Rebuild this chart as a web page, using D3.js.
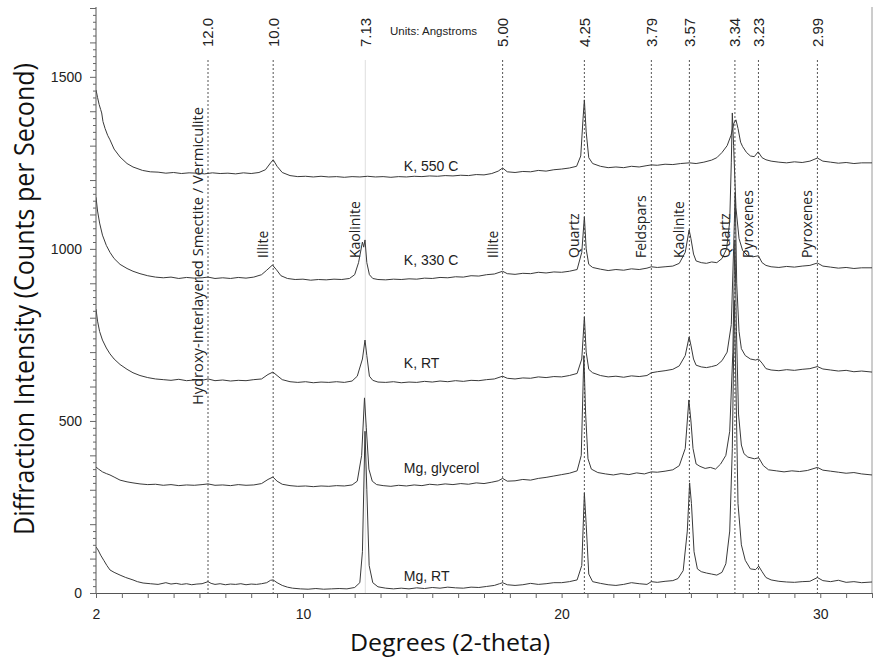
<!DOCTYPE html>
<html>
<head>
<meta charset="utf-8">
<script src="https://cdn.jsdelivr.net/npm/d3@7"></script>
<style>
  body { margin: 0; background: #fff; }
  svg { display: block; }
</style>
</head>
<body>
<svg id="chart" width="874" height="666"></svg>
<script>
// ---- data (2-theta degrees, counts per second) ----
const mgRT = [[2.0,134],[2.08,125],[2.18,110],[2.3,95],[2.42,80],[2.54,67],[2.7,60],[2.93,52],[3.15,45],[3.43,38],[3.6,33],[3.82,29],[4.1,27],[4.4,25],[4.7,30],[4.9,26],[5.1,28],[5.3,25],[5.5,27],[5.7,24],[5.9,26],[6.1,27],[6.33,33],[6.45,28],[6.6,25],[6.8,27],[7.0,24],[7.2,26],[7.4,25],[7.6,27],[7.8,24],[8.0,26],[8.2,25],[8.4,27],[8.6,30],[8.75,37],[8.85,38],[9.0,30],[9.2,22],[9.4,17],[9.6,14],[9.9,12],[10.2,11],[10.5,13],[10.8,11],[11.1,12],[11.4,13],[11.7,12],[12.0,16],[12.2,30],[12.3,120],[12.4,470],[12.47,300],[12.56,80],[12.7,30],[12.9,18],[13.2,14],[13.5,12],[13.8,14],[14.1,12],[14.4,15],[14.7,13],[15.0,16],[15.3,14],[15.6,17],[15.9,15],[16.2,14],[16.5,17],[16.8,16],[17.1,19],[17.4,22],[17.6,27],[17.72,30],[17.9,24],[18.2,22],[18.5,24],[18.8,28],[19.1,25],[19.4,27],[19.7,30],[20.0,30],[20.3,33],[20.6,38],[20.78,80],[20.88,290],[20.95,200],[21.05,55],[21.2,33],[21.5,28],[21.8,24],[22.1,22],[22.4,25],[22.7,30],[23.0,27],[23.3,25],[23.47,33],[23.7,31],[24.0,34],[24.3,36],[24.5,42],[24.7,65],[24.86,180],[24.95,320],[25.02,260],[25.12,120],[25.25,70],[25.4,62],[25.6,58],[25.8,55],[26.0,52],[26.2,60],[26.35,85],[26.5,180],[26.6,420],[26.68,850],[26.74,600],[26.82,260],[26.95,140],[27.1,95],[27.3,70],[27.5,68],[27.62,78],[27.75,62],[27.9,45],[28.1,38],[28.4,34],[28.7,32],[29.0,31],[29.3,33],[29.6,34],[29.89,45],[30.1,36],[30.4,33],[30.7,37],[31.0,31],[31.3,33],[31.6,30],[32.0,32]];

const mgGlycerol = [[2.0,366],[2.1,360],[2.25,352],[2.4,347],[2.54,343],[2.7,337],[2.93,328],[3.2,323],[3.43,320],[3.7,317],[4.0,315],[4.3,316],[4.6,313],[4.9,315],[5.2,312],[5.5,314],[5.8,313],[6.1,315],[6.33,317],[6.6,313],[6.9,314],[7.2,312],[7.5,315],[7.8,313],[8.1,314],[8.4,318],[8.65,330],[8.84,337],[9.0,325],[9.2,316],[9.5,312],[9.8,310],[10.1,311],[10.4,309],[10.7,311],[11.0,310],[11.3,312],[11.6,311],[11.9,314],[12.1,325],[12.27,400],[12.38,567],[12.45,480],[12.55,360],[12.68,325],[12.85,315],[13.1,312],[13.4,310],[13.7,313],[14.0,311],[14.3,314],[14.6,312],[14.9,316],[15.2,314],[15.5,317],[15.8,315],[16.1,318],[16.4,316],[16.7,320],[17.0,318],[17.3,322],[17.55,326],[17.72,333],[17.9,325],[18.2,326],[18.5,330],[18.8,328],[19.1,333],[19.4,336],[19.7,340],[20.0,344],[20.3,348],[20.6,355],[20.76,400],[20.86,690],[20.93,520],[21.02,390],[21.15,360],[21.4,350],[21.7,346],[22.0,343],[22.3,347],[22.6,344],[22.9,349],[23.2,346],[23.47,352],[23.7,351],[24.0,354],[24.3,358],[24.55,370],[24.78,420],[24.92,561],[25.0,500],[25.08,420],[25.2,375],[25.35,368],[25.55,362],[25.75,365],[25.95,360],[26.15,375],[26.35,400],[26.5,470],[26.62,700],[26.7,1026],[26.76,760],[26.84,520],[26.95,430],[27.05,405],[27.2,395],[27.45,390],[27.62,393],[27.8,370],[28.0,358],[28.3,355],[28.6,352],[28.9,355],[29.2,353],[29.5,356],[29.89,365],[30.1,357],[30.4,354],[30.7,351],[31.0,348],[31.3,350],[31.6,346],[32.0,343]];

const kRT = [[2.0,825],[2.06,790],[2.14,760],[2.25,735],[2.4,712],[2.54,695],[2.7,680],[2.93,664],[3.2,650],[3.43,640],[3.7,632],[4.0,626],[4.3,622],[4.6,620],[4.9,618],[5.2,621],[5.5,617],[5.8,619],[6.1,618],[6.33,622],[6.6,617],[6.9,619],[7.2,616],[7.5,618],[7.8,617],[8.1,620],[8.4,622],[8.65,635],[8.84,642],[9.0,632],[9.2,620],[9.5,614],[9.8,612],[10.1,614],[10.4,611],[10.7,613],[11.0,612],[11.3,614],[11.6,612],[11.9,616],[12.1,630],[12.3,680],[12.4,735],[12.47,690],[12.57,630],[12.7,618],[12.9,613],[13.2,612],[13.5,614],[13.8,611],[14.1,613],[14.4,612],[14.7,615],[15.0,613],[15.3,616],[15.6,614],[15.9,617],[16.2,615],[16.5,618],[16.8,617],[17.1,620],[17.4,622],[17.72,630],[17.9,624],[18.2,622],[18.5,625],[18.8,624],[19.1,628],[19.4,626],[19.7,629],[20.0,628],[20.3,632],[20.6,638],[20.78,680],[20.88,802],[20.95,700],[21.05,650],[21.2,640],[21.5,632],[21.8,628],[22.1,630],[22.4,627],[22.7,631],[23.0,629],[23.3,632],[23.47,640],[23.7,643],[24.0,646],[24.3,650],[24.55,660],[24.78,690],[24.93,744],[25.0,720],[25.1,680],[25.2,662],[25.4,657],[25.6,655],[25.8,658],[26.0,662],[26.2,675],[26.4,700],[26.56,780],[26.65,1000],[26.71,1163],[26.77,900],[26.86,760],[26.95,710],[27.1,690],[27.3,680],[27.5,677],[27.61,680],[27.75,668],[27.9,652],[28.1,648],[28.4,646],[28.7,649],[29.0,647],[29.3,650],[29.6,652],[29.89,658],[30.1,651],[30.4,648],[30.7,645],[31.0,647],[31.3,643],[31.6,645],[32.0,642]];

const k330 = [[2.0,1150],[2.06,1110],[2.14,1075],[2.25,1040],[2.4,1010],[2.54,990],[2.7,972],[2.93,955],[3.2,943],[3.43,935],[3.7,928],[4.0,922],[4.3,918],[4.6,916],[4.9,918],[5.2,914],[5.5,917],[5.8,915],[6.1,916],[6.33,918],[6.6,914],[6.9,916],[7.2,914],[7.5,917],[7.8,915],[8.1,918],[8.4,925],[8.6,938],[8.82,953],[8.97,940],[9.15,922],[9.4,914],[9.7,911],[10.0,912],[10.3,909],[10.6,911],[10.9,910],[11.2,912],[11.5,911],[11.8,914],[12.0,925],[12.15,960],[12.3,1020],[12.35,1005],[12.4,1026],[12.47,960],[12.57,925],[12.7,914],[12.9,911],[13.2,910],[13.5,912],[13.8,911],[14.1,913],[14.4,912],[14.7,915],[15.0,914],[15.3,917],[15.6,916],[15.9,919],[16.2,918],[16.5,922],[16.8,921],[17.1,925],[17.4,927],[17.72,935],[17.9,928],[18.2,926],[18.5,929],[18.8,928],[19.1,932],[19.4,930],[19.7,933],[20.0,932],[20.3,935],[20.6,940],[20.78,990],[20.88,1093],[20.95,1000],[21.05,955],[21.2,946],[21.5,941],[21.8,937],[22.1,940],[22.4,938],[22.7,942],[23.0,940],[23.3,944],[23.47,948],[23.7,946],[24.0,948],[24.3,950],[24.55,958],[24.78,990],[24.93,1055],[25.0,1030],[25.1,985],[25.2,965],[25.4,960],[25.6,958],[25.8,962],[26.0,960],[26.2,972],[26.38,1000],[26.5,1080],[26.56,1250],[26.6,1395],[26.65,1300],[26.74,1120],[26.86,1030],[27.0,995],[27.2,980],[27.4,977],[27.61,980],[27.75,960],[27.9,952],[28.1,948],[28.4,946],[28.7,949],[29.0,947],[29.3,950],[29.6,952],[29.89,959],[30.1,950],[30.4,947],[30.7,944],[31.0,946],[31.3,943],[31.6,945],[32.0,945]];

const k550 = [[2.0,1462],[2.06,1440],[2.12,1420],[2.18,1405],[2.22,1395],[2.27,1370],[2.35,1350],[2.45,1330],[2.54,1317],[2.7,1290],[2.93,1267],[3.2,1248],[3.43,1238],[3.8,1228],[4.1,1224],[4.4,1223],[4.7,1220],[5.0,1222],[5.3,1219],[5.6,1221],[5.9,1220],[6.2,1218],[6.5,1221],[6.8,1219],[7.1,1220],[7.4,1218],[7.7,1221],[8.0,1219],[8.3,1222],[8.55,1230],[8.75,1250],[8.85,1259],[9.0,1240],[9.2,1222],[9.5,1213],[9.8,1210],[10.1,1211],[10.4,1209],[10.7,1211],[11.0,1209],[11.3,1210],[11.6,1208],[11.9,1210],[12.2,1209],[12.5,1211],[12.8,1209],[13.1,1210],[13.4,1208],[13.7,1210],[14.0,1209],[14.3,1211],[14.6,1210],[14.9,1212],[15.2,1211],[15.5,1213],[15.8,1212],[16.1,1214],[16.4,1213],[16.7,1216],[17.0,1215],[17.3,1219],[17.55,1226],[17.72,1235],[17.9,1224],[18.2,1222],[18.5,1225],[18.8,1224],[19.1,1228],[19.4,1226],[19.7,1230],[20.0,1232],[20.3,1235],[20.58,1240],[20.74,1270],[20.83,1380],[20.88,1433],[20.95,1340],[21.05,1265],[21.2,1248],[21.5,1240],[21.8,1236],[22.1,1238],[22.4,1236],[22.7,1240],[23.0,1238],[23.3,1242],[23.47,1244],[23.7,1243],[24.0,1246],[24.3,1245],[24.6,1248],[24.94,1250],[25.2,1248],[25.5,1252],[25.8,1258],[26.0,1265],[26.2,1280],[26.4,1300],[26.55,1330],[26.66,1365],[26.74,1375],[26.82,1350],[26.92,1310],[27.0,1297],[27.15,1280],[27.3,1270],[27.45,1268],[27.6,1282],[27.75,1265],[27.9,1259],[28.1,1255],[28.4,1252],[28.7,1250],[29.0,1253],[29.3,1251],[29.6,1255],[29.89,1264],[30.1,1255],[30.4,1252],[30.7,1249],[31.0,1251],[31.3,1248],[31.6,1250],[32.0,1250]];

const seriesNames = ["Mg, RT", "Mg, glycerol", "K, RT", "K, 330 C", "K, 550 C"];
const seriesData = [mgRT, mgGlycerol, kRT, k330, k550];

// reference d-spacing lines (2-theta) with their labels
const dLinePos = [6.33, 8.85, 12.41, 17.72, 20.88, 23.47, 24.94, 26.70, 27.61, 29.89];
const dLineLabels = ["12.0", "10.0", "7.13", "5.00", "4.25", "3.79", "3.57", "3.34", "3.23", "2.99"];
const mineralNames = ["Hydroxy-Interlayered Smectite / Vermiculite", "Illite", "Kaolinite", "Illite",
  "Quartz", "Feldspars", "Kaolinite", "Quartz", "Pyroxenes", "Pyroxenes"];

const xTickLabels = [2, 10, 20, 30];
const yTickLabels = [0, 500, 1000, 1500];

// ---- drawing ----
const svg = d3.select("#chart");
const x = d3.scaleLinear().domain([2, 32]).range([96, 872]);
const y = d3.scaleLinear().domain([0, 1700]).range([593, 8]);
const ink = "#3a3a3a";
const numFont = "'Liberation Sans', Arial, sans-serif";
const textFont = "'Open Sans', 'Noto Sans', sans-serif";

svg.append("defs").append("clipPath").attr("id", "plot")
  .append("rect").attr("x", 96).attr("y", 0).attr("width", 776).attr("height", 593);

// right frame line
svg.append("line").attr("x1", 872).attr("x2", 872).attr("y1", 7).attr("y2", 593)
  .attr("stroke", "#9a9a9a").attr("stroke-width", 1);

// vertical reference lines
const refs = svg.append("g");
dLinePos.forEach(function (t, i) {
  const faint = dLineLabels[i] === "7.13";
  refs.append("line")
    .attr("x1", x(t)).attr("x2", x(t))
    .attr("y1", 60).attr("y2", 593)
    .attr("stroke", faint ? "#dedede" : "#555")
    .attr("stroke-width", 1)
    .attr("stroke-dasharray", faint ? null : "2,2");
  refs.append("text")
    .attr("transform", "translate(" + x(t) + ",47) rotate(-90)")
    .attr("dy", "0.36em")
    .attr("font-family", numFont).attr("font-size", 15)
    .attr("fill", "#222")
    .text(dLineLabels[i]);
  const lab = refs.append("text")
    .attr("transform", "translate(" + (x(t) - 10) + "," + (i === 0 ? 405 : 258) + ") rotate(-90)")
    .attr("dy", "0.36em")
    .attr("font-family", textFont).attr("font-size", 14)
    .attr("fill", "#222")
    .text(mineralNames[i]);
  if (i === 0) lab.attr("textLength", 298).attr("lengthAdjust", "spacingAndGlyphs");
});

svg.append("text").attr("x", 390).attr("y", 35)
  .attr("font-family", numFont).attr("font-size", 10).attr("fill", "#222")
  .attr("textLength", 87).attr("lengthAdjust", "spacingAndGlyphs")
  .text("Units: Angstroms");

// traces
const line = d3.line().x(d => x(d[0])).y(d => y(d[1]));
const traces = svg.append("g").attr("clip-path", "url(#plot)");
seriesData.forEach(function (s) {
  traces.append("path").datum(s)
    .attr("d", line)
    .attr("fill", "none")
    .attr("stroke", ink)
    .attr("stroke-width", 1)
    .attr("stroke-linejoin", "round");
});

// series labels sit just above each trace
const labelAt = 13.9;
const labelLift = [8, 13, 14, 14, 6];
const bis = d3.bisector(d => d[0]).left;
seriesData.forEach(function (s, i) {
  const j = bis(s, labelAt);
  svg.append("text")
    .attr("x", x(labelAt))
    .attr("y", y(s[j][1]) - labelLift[i])
    .attr("font-family", numFont).attr("font-size", 14)
    .attr("fill", "#222")
    .text(seriesNames[i]);
});

// y axis
const yAxis = svg.append("g").attr("transform", "translate(96,0)")
  .call(d3.axisLeft(y).tickValues(d3.range(0, 1701, 20)).tickSize(3).tickSizeOuter(0).tickFormat(""));
yAxis.selectAll(".tick line").attr("x2", d => d % 100 === 0 ? -6 : -3).attr("stroke", "#666");
yAxis.select(".domain").attr("stroke", "#555").attr("d", "M0,7V593");

const yLab = svg.append("g").attr("transform", "translate(96,0)")
  .call(d3.axisLeft(y).tickValues(yTickLabels).tickSize(0).tickPadding(14).tickFormat(d3.format("d")));
yLab.select(".domain").remove();
yLab.selectAll("text").attr("font-family", numFont).attr("font-size", 14).attr("fill", "#222");

// x axis
const xAxis = svg.append("g").attr("transform", "translate(0,593)")
  .call(d3.axisBottom(x).tickValues(d3.range(2, 33, 1)).tickSize(5).tickSizeOuter(0).tickFormat(""));
xAxis.selectAll(".tick line").attr("stroke", "#666");
xAxis.select(".domain").attr("stroke", "#555");

const xLab = svg.append("g").attr("transform", "translate(0,593)")
  .call(d3.axisBottom(x).tickValues(xTickLabels).tickSize(0).tickPadding(16));
xLab.select(".domain").remove();
xLab.selectAll("text").attr("font-family", numFont).attr("font-size", 14).attr("fill", "#222");

// axis titles
svg.append("text")
  .attr("transform", "translate(34,299) rotate(-90)")
  .attr("text-anchor", "middle")
  .attr("font-family", textFont).attr("font-size", 27).attr("fill", "#111")
  .attr("textLength", 472).attr("lengthAdjust", "spacingAndGlyphs")
  .text("Diffraction Intensity (Counts per Second)");

svg.append("text")
  .attr("x", 450).attr("y", 651)
  .attr("text-anchor", "middle")
  .attr("font-family", textFont).attr("font-size", 24).attr("fill", "#111")
  .attr("textLength", 200).attr("lengthAdjust", "spacingAndGlyphs")
  .text("Degrees (2-theta)");
</script>
</body>
</html>
